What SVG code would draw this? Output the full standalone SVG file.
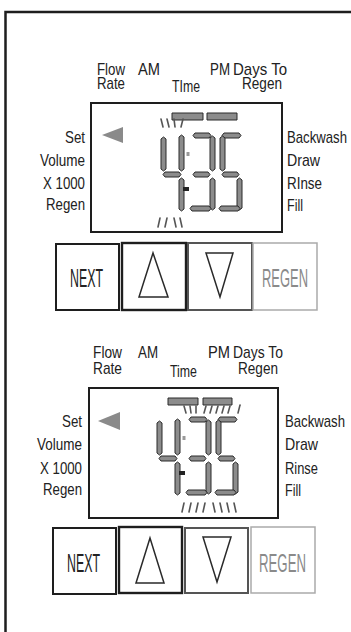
<svg xmlns="http://www.w3.org/2000/svg" width="351" height="632" viewBox="0 0 351 632">
<style>
.lbl{font-family:"Liberation Sans",Arial,sans-serif;font-size:17px;fill:#222}
.btn{font-family:"Liberation Sans",Arial,sans-serif;font-size:25px}
.lcd{fill:none;stroke:#1e1e1e;stroke-width:2}
.seg{fill:#8c8c8c;stroke:#2a2a2a;stroke-width:1;stroke-linejoin:round}
.tick{stroke:#555;stroke-width:1.6;stroke-linecap:round}
.tri{fill:none;stroke:#2a2a2a;stroke-width:1.5;stroke-linejoin:miter}
</style>
<defs>
<g id="digits">
<polygon class="seg" points="163.5,137 166,139 166,169 163.5,171 161,169 161,139"/>
<polygon class="seg" points="181.5,135 184,137 184,169 181.5,171 179,169 179,137"/>
<polygon class="seg" points="165,172 179,172 181,174.5 179,177 165,177 163,174.5"/>
<polygon class="seg" points="181.5,178 184,180 184,209 181.5,211 179,209 179,180"/>
<rect x="186.5" y="152" width="3" height="4" fill="#999"/>
<rect x="183" y="187" width="6" height="4" fill="#222"/>
<polygon class="seg" points="195,133 209,133 211,135.5 209,138 195,138 193,135.5"/>
<polygon class="seg" points="212.5,136 215,138 215,169 212.5,171 210,169 210,138"/>
<polygon class="seg" points="195,172 208,172 210,174.5 208,177 195,177 193,174.5"/>
<polygon class="seg" points="212.5,178 215,180 215,208 212.5,210 210,208 210,180"/>
<polygon class="seg" points="192,206 209,206 211,208.5 209,211 192,211 190,208.5"/>
<polygon class="seg" points="224,133 239,133 241,135.5 239,138 224,138 222,135.5"/>
<polygon class="seg" points="222.5,136 225,138 225,169 222.5,171 220,169 220,138"/>
<polygon class="seg" points="224,172 237,172 239,174.5 237,177 224,177 222,174.5"/>
<polygon class="seg" points="239.5,178 242,180 242,208 239.5,210 237,208 237,180"/>
<polygon class="seg" points="221,206 238,206 240,208.5 238,211 221,211 219,208.5"/>
</g>
</defs>

<rect id="frame" x="5.5" y="12" width="400" height="700" fill="none" stroke="#1e1e1e" stroke-width="2.5"/>

<g id="panel1">
<g id="p1-labels">
<text class="lbl" x="97" y="75" textLength="28" lengthAdjust="spacingAndGlyphs">Flow</text>
<text class="lbl" x="97" y="88.5" textLength="28" lengthAdjust="spacingAndGlyphs">Rate</text>
<text class="lbl" x="138" y="75" textLength="22" lengthAdjust="spacingAndGlyphs">AM</text>
<text class="lbl" x="172" y="92" textLength="28" lengthAdjust="spacingAndGlyphs">TIme</text>
<text class="lbl" x="210" y="75" textLength="20" lengthAdjust="spacingAndGlyphs">PM</text>
<text class="lbl" x="233" y="75" textLength="54" lengthAdjust="spacingAndGlyphs">Days To</text>
<text class="lbl" x="242" y="89" textLength="40" lengthAdjust="spacingAndGlyphs">Regen</text>
<text class="lbl" x="85" y="143" text-anchor="end" textLength="20" lengthAdjust="spacingAndGlyphs">Set</text>
<text class="lbl" x="85" y="166" text-anchor="end" textLength="45" lengthAdjust="spacingAndGlyphs">Volume</text>
<text class="lbl" x="85" y="189" text-anchor="end" textLength="42" lengthAdjust="spacingAndGlyphs">X 1000</text>
<text class="lbl" x="85" y="210" text-anchor="end" textLength="39" lengthAdjust="spacingAndGlyphs">Regen</text>
<text class="lbl" x="287" y="143" textLength="60" lengthAdjust="spacingAndGlyphs">Backwash</text>
<text class="lbl" x="287" y="166" textLength="33" lengthAdjust="spacingAndGlyphs">Draw</text>
<text class="lbl" x="287" y="189" textLength="35" lengthAdjust="spacingAndGlyphs">RInse</text>
<text class="lbl" x="287" y="211" textLength="16" lengthAdjust="spacingAndGlyphs">Fill</text>
</g>
<g id="p1-lcd">
<rect class="lcd" x="91" y="103" width="191" height="129"/>
<polygon points="102,135 123,127 123,143" fill="#8a8a8a"/>
<rect class="seg" x="172" y="113" width="31" height="7"/>
<rect class="seg" x="207" y="113" width="30" height="7"/>
<line class="tick" x1="161" y1="119" x2="163" y2="127"/>
<line class="tick" x1="167" y1="119" x2="169" y2="127"/>
<line class="tick" x1="174" y1="119" x2="175" y2="127"/>
<line class="tick" x1="183" y1="119" x2="181" y2="127"/>
<use href="#digits"/>
<line class="tick" x1="158" y1="227" x2="160" y2="218"/>
<line class="tick" x1="165" y1="227" x2="167" y2="218"/>
<line class="tick" x1="174" y1="218" x2="176" y2="227"/>
<line class="tick" x1="180" y1="218" x2="182" y2="227"/>
</g>
<g id="p1-next">
<rect x="56" y="244" width="63" height="66" fill="none" stroke="#1e1e1e" stroke-width="2"/>
<text class="btn" x="70" y="287" fill="#222" textLength="33" lengthAdjust="spacingAndGlyphs">NEXT</text>
</g>
<g id="p1-up">
<rect x="122" y="243" width="64" height="67" fill="none" stroke="#1e1e1e" stroke-width="2.4"/>
<polygon class="tri" points="153,253 139,297 168,297"/>
</g>
<g id="p1-down">
<rect x="188" y="243" width="64" height="67" fill="none" stroke="#555" stroke-width="2"/>
<polygon class="tri" points="206,253 233,253 220,297" stroke="#444"/>
</g>
<g id="p1-regen">
<rect x="253" y="243" width="64" height="67" fill="none" stroke="#aaa" stroke-width="1.5"/>
<text class="btn" x="262" y="287" fill="#8a8a8a" textLength="46" lengthAdjust="spacingAndGlyphs">REGEN</text>
</g>
</g>

<g id="panel2">
<g id="p2-labels">
<text class="lbl" x="93" y="358" textLength="29" lengthAdjust="spacingAndGlyphs">Flow</text>
<text class="lbl" x="93" y="373.5" textLength="29" lengthAdjust="spacingAndGlyphs">Rate</text>
<text class="lbl" x="138" y="358" textLength="20" lengthAdjust="spacingAndGlyphs">AM</text>
<text class="lbl" x="170" y="377" textLength="27" lengthAdjust="spacingAndGlyphs">Time</text>
<text class="lbl" x="208" y="358" textLength="22" lengthAdjust="spacingAndGlyphs">PM</text>
<text class="lbl" x="233" y="358" textLength="50" lengthAdjust="spacingAndGlyphs">Days To</text>
<text class="lbl" x="238" y="374" textLength="40" lengthAdjust="spacingAndGlyphs">Regen</text>
<text class="lbl" x="82" y="427" text-anchor="end" textLength="20" lengthAdjust="spacingAndGlyphs">Set</text>
<text class="lbl" x="82" y="450" text-anchor="end" textLength="45" lengthAdjust="spacingAndGlyphs">Volume</text>
<text class="lbl" x="82" y="474" text-anchor="end" textLength="42" lengthAdjust="spacingAndGlyphs">X 1000</text>
<text class="lbl" x="82" y="495" text-anchor="end" textLength="39" lengthAdjust="spacingAndGlyphs">Regen</text>
<text class="lbl" x="285" y="427" textLength="60" lengthAdjust="spacingAndGlyphs">Backwash</text>
<text class="lbl" x="285" y="450" textLength="33" lengthAdjust="spacingAndGlyphs">Draw</text>
<text class="lbl" x="285" y="474" textLength="33" lengthAdjust="spacingAndGlyphs">Rinse</text>
<text class="lbl" x="285" y="496" textLength="16" lengthAdjust="spacingAndGlyphs">Fill</text>
</g>
<g id="p2-lcd">
<rect class="lcd" x="89" y="388" width="189" height="130"/>
<polygon points="98,421 120,412 120,430" fill="#8a8a8a"/>
<rect class="seg" x="168" y="398" width="30" height="7"/>
<rect class="seg" x="203" y="398" width="29" height="7"/>
<line class="tick" x1="184" y1="406" x2="186" y2="413"/>
<line class="tick" x1="190" y1="406" x2="191" y2="413"/>
<line class="tick" x1="196" y1="406" x2="196" y2="413"/>
<line class="tick" x1="204" y1="413" x2="206" y2="406"/>
<line class="tick" x1="210" y1="413" x2="212" y2="406"/>
<line class="tick" x1="216" y1="413" x2="218" y2="406"/>
<line class="tick" x1="222" y1="413" x2="224" y2="406"/>
<line class="tick" x1="228" y1="413" x2="230" y2="406"/>
<line class="tick" x1="238" y1="413" x2="240" y2="405"/>
<use href="#digits" transform="translate(-4,284)"/>
<line class="tick" x1="182" y1="512" x2="184" y2="503"/>
<line class="tick" x1="189" y1="512" x2="191" y2="503"/>
<line class="tick" x1="196" y1="512" x2="198" y2="503"/>
<line class="tick" x1="203" y1="512" x2="205" y2="503"/>
<line class="tick" x1="213" y1="503" x2="215" y2="512"/>
<line class="tick" x1="220" y1="503" x2="222" y2="512"/>
<line class="tick" x1="227" y1="503" x2="229" y2="512"/>
<line class="tick" x1="234" y1="503" x2="236" y2="512"/>
</g>
<g id="p2-next">
<rect x="53" y="528" width="63" height="66" fill="none" stroke="#1e1e1e" stroke-width="2"/>
<text class="btn" x="67" y="572" fill="#222" textLength="33" lengthAdjust="spacingAndGlyphs">NEXT</text>
</g>
<g id="p2-up">
<rect x="119" y="527" width="63" height="66" fill="none" stroke="#1e1e1e" stroke-width="2.4"/>
<polygon class="tri" points="150,538 136,583 164,583"/>
</g>
<g id="p2-down">
<rect x="185" y="528" width="63" height="65" fill="none" stroke="#555" stroke-width="2"/>
<polygon class="tri" points="203,537 231,537 217,582" stroke="#444"/>
</g>
<g id="p2-regen">
<rect x="251" y="527" width="64" height="66" fill="none" stroke="#aaa" stroke-width="1.5"/>
<text class="btn" x="259" y="572" fill="#8a8a8a" textLength="47" lengthAdjust="spacingAndGlyphs">REGEN</text>
</g>
</g>
</svg>
